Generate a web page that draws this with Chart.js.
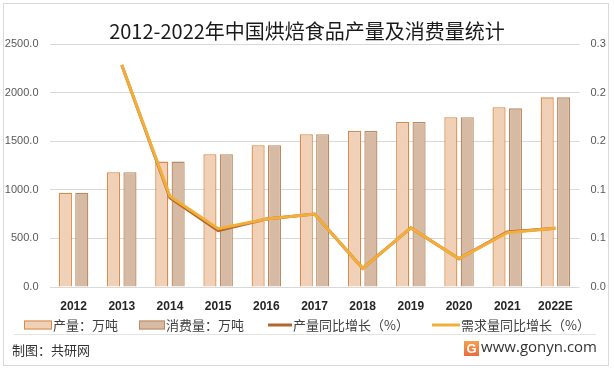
<!DOCTYPE html>
<html><head><meta charset="utf-8">
<script src="https://cdn.jsdelivr.net/npm/chart.js@4"></script>
<style>html,body{margin:0;padding:0;background:#fff;}canvas{display:block;}</style>
</head><body>
<canvas id="c" width="614" height="371"></canvas>
<script>
const categories = ['2012','2013','2014','2015','2016','2017','2018','2019','2020','2021','2022E'];
const production = [970,1180,1290,1365,1458,1571,1605,1698,1746,1849,1951];
const consumption = [970,1180,1290,1365,1458,1571,1605,1698,1746,1838,1951];
const productionGrowth = [null,0.274,0.110,0.0695,0.084,0.090,0.023,0.073,0.035,0.068,0.0725];
const demandGrowth = [null,0.274,0.112,0.072,0.084,0.090,0.023,0.073,0.035,0.067,0.0725];
const leftTicks = [0,500,1000,1500,2000,2500];
const rightTicks = [0,0.06,0.12,0.18,0.24,0.30];
const seriesNames = ['产量：万吨','消费量：万吨','产量同比增长（%）','需求量同比增长（%）'];
const titleText = '2012-2022年中国烘焙食品产量及消费量统计';
const sourceText = '制图：共研网';
const siteText = 'www.gonyn.com';

const CJK = '"Noto Sans CJK SC", "Noto Sans", sans-serif';
const LAT = '"Liberation Sans", Arial, sans-serif';

const legendPos = [
  {x0:24, x1:52, tx:53},
  {x0:139, x1:165, tx:166},
  {x0:268, x1:292, tx:293},
  {x0:432, x1:460, tx:461}
];

const decor = {
  id:'decor',
  beforeDraw(chart){
    const ctx = chart.ctx;
    ctx.save();
    ctx.fillStyle = '#fff';
    ctx.fillRect(0,0,chart.width,chart.height);
    ctx.restore();
  },
  afterDraw(chart){
    const ctx = chart.ctx;
    ctx.save();
    ctx.strokeStyle = '#d9d9d9';
    ctx.lineWidth = 1;
    ctx.strokeRect(3.5,3.5,605,362);
    const yc = 325;
    chart.data.datasets.forEach((ds,i)=>{
      const p = legendPos[i];
      if (ds.type === 'line') {
        ctx.strokeStyle = ds.borderColor;
        ctx.lineWidth = 3;
        ctx.beginPath();
        ctx.moveTo(p.x0, yc); ctx.lineTo(p.x1, yc);
        ctx.stroke();
      } else {
        ctx.fillStyle = ds.backgroundColor;
        ctx.fillRect(p.x0, yc-4.5, p.x1-p.x0, 9);
        ctx.strokeStyle = ds.borderColor;
        ctx.lineWidth = 1;
        ctx.strokeRect(p.x0+0.5, yc-4.5+0.5, p.x1-p.x0-1, 8);
      }
      ctx.fillStyle = '#404040';
      ctx.font = '13px ' + CJK;
      ctx.textBaseline = 'middle';
      ctx.textAlign = 'left';
      ctx.fillText(ds.label, p.tx, yc+0.5);
    });
    ctx.strokeStyle = '#e3e3e3';
    ctx.lineWidth = 1;
    ctx.beginPath();
    ctx.moveTo(14, 334.5); ctx.lineTo(596, 334.5);
    ctx.stroke();
    ctx.fillStyle = '#333';
    ctx.font = '13px ' + CJK;
    ctx.textBaseline = 'middle';
    ctx.fillText(sourceText, 12, 350);
    ctx.font = '15px ' + '"Open Sans", ' + LAT;
    ctx.fillStyle = '#333';
    ctx.textAlign = 'right';
    ctx.fillText(siteText, 597, 348);
    const g = ctx.createLinearGradient(464,341,464,356);
    g.addColorStop(0,'#f6a04d'); g.addColorStop(1,'#ee6a3c');
    ctx.fillStyle = g;
    ctx.fillRect(464,341,15,15);
    ctx.fillStyle = '#fff';
    ctx.font = 'bold 13px ' + LAT;
    ctx.textAlign = 'center';
    ctx.fillText('G', 471.5, 349);
    ctx.restore();
  }
};

new Chart(document.getElementById('c'), {
  data: {
    labels: categories,
    datasets: [
      {type:'bar', label:seriesNames[0], data:production, yAxisID:'y',
       backgroundColor:'#f0d1b7', borderColor:'#d98a48', borderWidth:1.3, order:2,
       categoryPercentage:0.68, barPercentage:0.8},
      {type:'bar', label:seriesNames[1], data:consumption, yAxisID:'y',
       backgroundColor:'#d6baa3', borderColor:'#b98a63', borderWidth:1.3, order:3,
       categoryPercentage:0.68, barPercentage:0.8},
      {type:'line', label:seriesNames[2], data:productionGrowth, yAxisID:'y1',
       borderColor:'#b4672b', backgroundColor:'#b4672b', borderWidth:3, pointRadius:0, tension:0, order:1},
      {type:'line', label:seriesNames[3], data:demandGrowth, yAxisID:'y1',
       borderColor:'#f3ae3a', backgroundColor:'#f3ae3a', borderWidth:3, pointRadius:0, tension:0, order:0}
    ]
  },
  options: {
    responsive:false,
    devicePixelRatio:1,
    animation:false,
    layout:{padding:{left:0,right:0,top:0,bottom:0}},
    plugins:{
      legend:{display:false},
      tooltip:{enabled:false},
      title:{display:true, text:titleText, color:'#1a1a1a',
        font:{family:CJK, size:20, weight:'normal'}, padding:{top:19,bottom:1}}
    },
    scales:{
      x:{
        grid:{display:false, drawTicks:false},
        border:{display:false},
        ticks:{color:'#262626', font:{family:LAT, size:12, weight:'bold'}, padding:12, maxRotation:0, autoSkip:false},
        afterFit(s){ s.height = 84; }
      },
      y:{
        position:'left', min:0, max:2500,
        afterBuildTicks(s){ s.ticks = leftTicks.map(v=>({value:v})); },
        grid:{color:'#d9d9d9', lineWidth:1, drawTicks:false},
        border:{display:false},
        ticks:{color:'#595959', font:{family:LAT, size:11}, padding:11, callback:v=>Number(v).toFixed(1)},
        afterFit(s){ s.width = 49.5; }
      },
      y1:{
        position:'right', min:0, max:0.3,
        afterBuildTicks(s){ s.ticks = rightTicks.map(v=>({value:v})); },
        grid:{display:false, drawTicks:false},
        border:{display:false},
        ticks:{color:'#595959', font:{family:LAT, size:11}, padding:11, callback:v=>Number(v).toFixed(1)},
        afterFit(s){ s.width = 34.5; }
      }
    }
  },
  plugins:[decor]
});
</script>
</body></html>
